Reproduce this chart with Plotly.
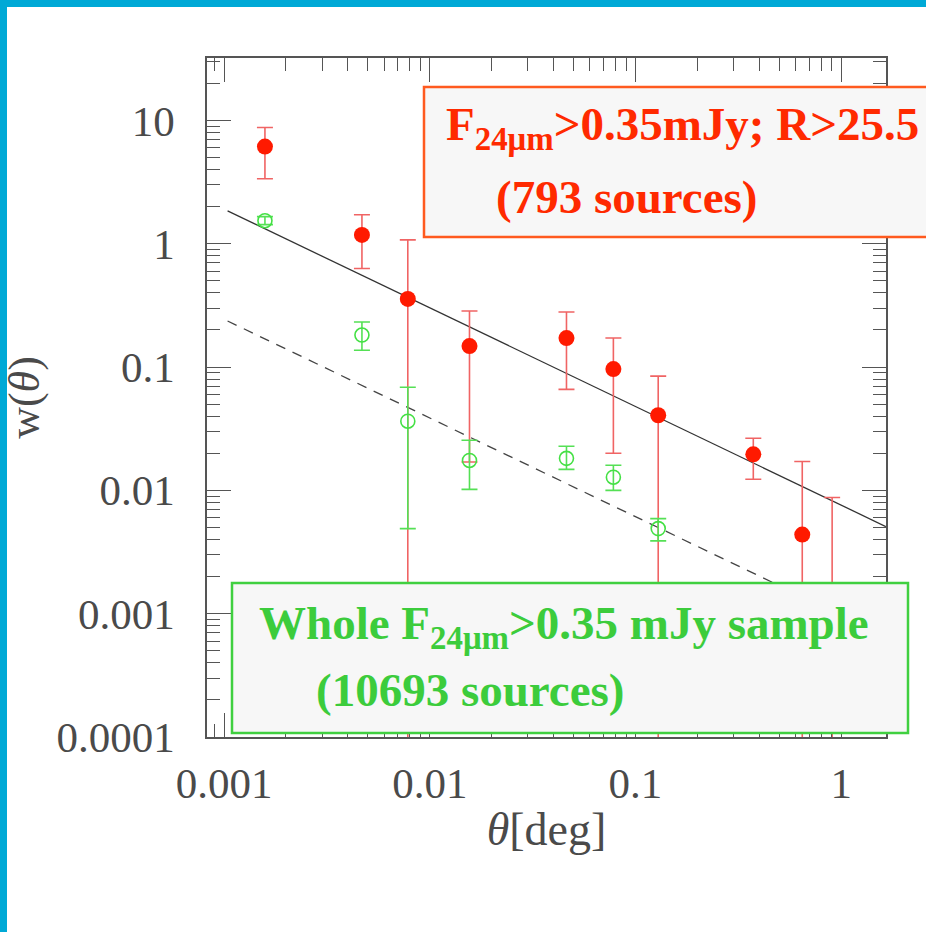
import plotly.graph_objects as go

# ---------------- data ----------------
theta = [0.00158, 0.00468, 0.00782, 0.0156, 0.0462, 0.0781, 0.129, 0.374, 0.647, 0.904]
w_red = [6.15, 1.18, 0.357, 0.148, 0.172, 0.0964, 0.0407, 0.0196, 0.00438, 0.00005]
w_red_plus = [2.62, 0.54, 0.72, 0.137, 0.108, 0.0756, 0.0438, 0.0069, 0.0128, 0.00872]
w_red_minus = [2.78, 0.55, 0.50, 0.131, 0.106, 0.0764, 0.060, 0.0073, 0.0080, 0.0001]

theta_g = [0.00158, 0.00468, 0.00782, 0.0156, 0.0462, 0.0781, 0.129]
w_green = [1.54, 0.182, 0.0364, 0.0175, 0.0182, 0.0128, 0.0049]
w_green_plus = [0.12, 0.050, 0.0323, 0.0080, 0.0046, 0.0032, 0.0010]
w_green_minus = [0.11, 0.045, 0.0315, 0.0073, 0.0034, 0.0028, 0.0010]

fit_theta = [0.00104, 1.65]
fit_red = [1.85, 0.00509]
fit_all = [0.2366, 0.00065]

x_major = [0.001, 0.01, 0.1, 1]
x_major_text = ["0.001", "0.01", "0.1", "1"]
y_major = [0.0001, 0.001, 0.01, 0.1, 1, 10]
y_major_text = ["0.0001", "0.001", "0.01", "0.1", "1", "10"]
minor_mult = [2, 3, 4, 5, 6, 7, 8, 9]
x_minor = [m * d for d in [0.0001, 0.001, 0.01, 0.1, 1] for m in minor_mult]
y_minor = [m * d for d in [0.0001, 0.001, 0.01, 0.1, 1, 10] for m in minor_mult]

# ---------------- layout geometry (pixels) ----------------
W, H = 926, 932
L, R, T, B = 207, 40, 58, 195
PW, PH = W - L - R, H - T - B


def px(xp):
    return (xp - L) / PW


def py(yp):
    return 1 - (yp - T) / PH


RED_TXT = "#ff2a00"
RED_BOX = "#ff5a1f"
GRN_TXT = "#3ccc3c"
GRN_BOX = "#40d040"
AX = "#555555"

fig = go.Figure()

fig.add_trace(go.Scatter(
    x=fit_theta, y=fit_red, mode="lines",
    line=dict(color="#333333", width=1.3), showlegend=False))
fig.add_trace(go.Scatter(
    x=fit_theta, y=fit_all, mode="lines",
    line=dict(color="#444444", width=1.3, dash="10px,8px"), showlegend=False))

fig.add_trace(go.Scatter(
    x=theta, y=w_red, mode="markers",
    marker=dict(symbol="circle", size=16, color="#ff1a00"),
    error_y=dict(type="data", array=w_red_plus, arrayminus=w_red_minus,
                 color="#f06464", thickness=1.6, width=8),
    showlegend=False))

fig.add_trace(go.Scatter(
    x=theta_g, y=w_green, mode="markers",
    marker=dict(symbol="circle-open", size=14, color="#44e044", line=dict(width=1.6)),
    error_y=dict(type="data", array=w_green_plus, arrayminus=w_green_minus,
                 color="#55e055", thickness=1.6, width=8),
    showlegend=False))

axis_common = dict(
    type="log", showgrid=False, zeroline=False, showline=True,
    linecolor=AX, linewidth=1.5, mirror="ticks",
    ticks="inside", ticklen=24, tickwidth=1.3, tickcolor=AX,
    tickfont=dict(family="Liberation Serif", size=43, color="#4a4a4a"),
    automargin=False,
)

fig.update_xaxes(
    **axis_common,
    range=[-3.083, 0.218],
    tickmode="array", tickvals=x_major, ticktext=x_major_text,
    ticklabelstandoff=8,
    minor=dict(ticks="inside", ticklen=13, tickwidth=1.2, tickcolor=AX,
               tickmode="array", tickvals=x_minor, showgrid=False),
    title=dict(text="<i>θ</i>[deg]", standoff=6,
               font=dict(family="Liberation Serif", size=46, color="#4a4a4a")),
)
fig.update_yaxes(
    **axis_common,
    range=[-4, 1.507],
    tickmode="array", tickvals=y_major, ticktext=y_major_text,
    ticklabelstandoff=22,
    minor=dict(ticks="inside", ticklen=13, tickwidth=1.2, tickcolor=AX,
               tickmode="array", tickvals=y_minor, showgrid=False),
    title=dict(text="w(<i>θ</i>)", standoff=4,
               font=dict(family="Liberation Serif", size=44, color="#4a4a4a")),
)

shapes = [
    # blue frame stripes
    dict(type="rect", xref="paper", yref="paper", x0=px(0), x1=px(7), y0=py(H), y1=py(0),
         fillcolor="#00a9d6", line=dict(width=0), layer="above"),
    dict(type="rect", xref="paper", yref="paper", x0=px(0), x1=px(W), y0=py(7), y1=py(0),
         fillcolor="#00a9d6", line=dict(width=0), layer="above"),
    # red label box
    dict(type="rect", xref="paper", yref="paper", x0=px(424), x1=px(940), y0=py(237), y1=py(87),
         fillcolor="#f7f7f7", line=dict(color=RED_BOX, width=2.5), layer="above"),
    # green label box
    dict(type="rect", xref="paper", yref="paper", x0=px(232), x1=px(908), y0=py(733), y1=py(583),
         fillcolor="#f7f7f7", line=dict(color=GRN_BOX, width=2.5), layer="above"),
]

font_red = dict(family="Liberation Serif", size=47, color=RED_TXT)
font_grn = dict(family="Liberation Serif", size=47, color=GRN_TXT)
annotations = [
    dict(xref="paper", yref="paper", x=px(444), y=py(128), xanchor="left", yanchor="middle",
         text="<b>F<sub>24μm</sub>&gt;0.35mJy; R&gt;25.5</b>", showarrow=False, font=font_red),
    dict(xref="paper", yref="paper", x=px(494), y=py(197), xanchor="left", yanchor="middle",
         text="<b>(793 sources)</b>", showarrow=False, font=font_red),
    dict(xref="paper", yref="paper", x=px(257), y=py(626), xanchor="left", yanchor="middle",
         text="<b>Whole F<sub>24μm</sub>&gt;0.35 mJy sample</b>", showarrow=False, font=font_grn),
    dict(xref="paper", yref="paper", x=px(314), y=py(690), xanchor="left", yanchor="middle",
         text="<b>(10693 sources)</b>", showarrow=False, font=font_grn),
]

fig.update_layout(
    width=W, height=H,
    margin=dict(l=L, r=R, t=T, b=B, autoexpand=False),
    paper_bgcolor="white", plot_bgcolor="white",
    shapes=shapes, annotations=annotations,
    showlegend=False,
)

fig.write_html("out.html")
